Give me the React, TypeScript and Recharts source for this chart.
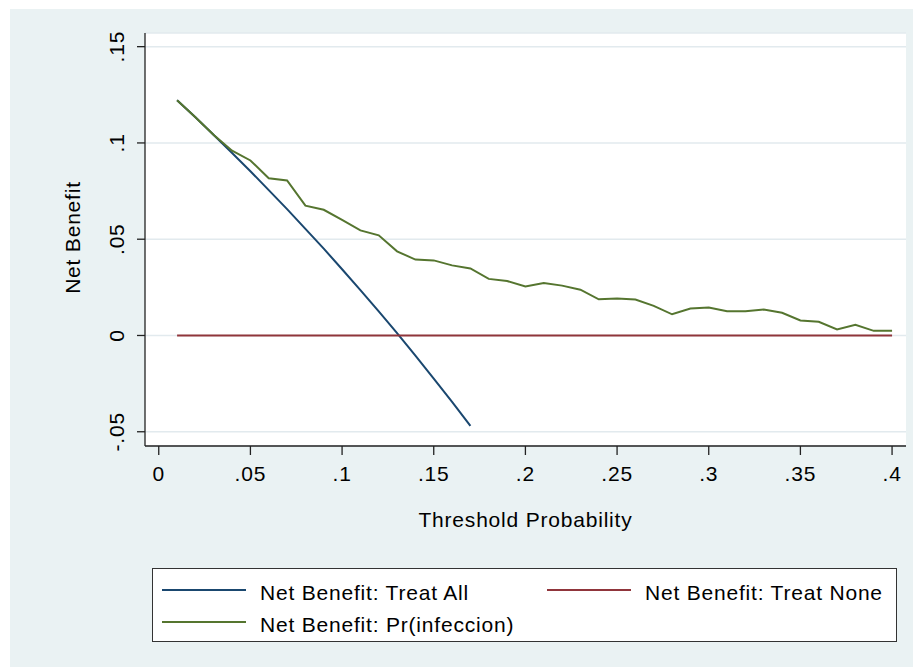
import { LineChart, Line, XAxis, YAxis, CartesianGrid, Label } from "recharts";

// threshold probabilities 0.01 .. 0.40
const thresholds = [
  0.01, 0.02, 0.03, 0.04, 0.05, 0.06, 0.07, 0.08, 0.09, 0.1,
  0.11, 0.12, 0.13, 0.14, 0.15, 0.16, 0.17, 0.18, 0.19, 0.2,
  0.21, 0.22, 0.23, 0.24, 0.25, 0.26, 0.27, 0.28, 0.29, 0.3,
  0.31, 0.32, 0.33, 0.34, 0.35, 0.36, 0.37, 0.38, 0.39, 0.4,
];

// treat all stops at 0.17
const treatAll = [
  0.1222, 0.1133, 0.1041, 0.0948, 0.0853, 0.0755, 0.0656, 0.0554, 0.0451, 0.0344,
  0.0236, 0.0125, 0.0012, -0.0105, -0.0224, -0.0345, -0.047,
];

const treatNone = [
  0, 0, 0, 0, 0, 0, 0, 0, 0, 0,
  0, 0, 0, 0, 0, 0, 0, 0, 0, 0,
  0, 0, 0, 0, 0, 0, 0, 0, 0, 0,
  0, 0, 0, 0, 0, 0, 0, 0, 0, 0,
];

const prInfeccion = [
  0.1222, 0.1133, 0.1041, 0.096, 0.0909, 0.0817, 0.0805, 0.0674, 0.0653, 0.06,
  0.0546, 0.052, 0.0437, 0.0394, 0.039, 0.0364, 0.0348, 0.0294, 0.0283, 0.0254,
  0.0273, 0.0259, 0.0238, 0.0188, 0.0192, 0.0187, 0.0154, 0.011, 0.014, 0.0145,
  0.0126, 0.0126, 0.0135, 0.0118, 0.0078, 0.0071, 0.0031, 0.0055, 0.0024, 0.0024,
];

const xTicks = [0, 0.05, 0.1, 0.15, 0.2, 0.25, 0.3, 0.35, 0.4];
const xTickLabels = ["0", ".05", ".1", ".15", ".2", ".25", ".3", ".35", ".4"];
const yTicks = [-0.05, 0, 0.05, 0.1, 0.15];
const yTickLabels = ["-.05", "0", ".05", ".1", ".15"];

const seriesNames = [
  "Net Benefit: Treat All",
  "Net Benefit: Treat None",
  "Net Benefit: Pr(infeccion)",
];

const NAVY = "#1a476f";
const MAROON = "#90353b";
const GREEN = "#55752f";
const BG = "#eaf2f3";
const FONT = '"Liberation Sans", Arial, sans-serif';

const data = thresholds.map((t, i) => ({
  t,
  all: treatAll[i],
  none: treatNone[i],
  model: prInfeccion[i],
}));

const textStyle = { fontFamily: FONT, fontSize: 21, letterSpacing: 0.8, fill: "#000" };

function XTick(props: any) {
  const { x, y, payload } = props;
  const i = xTicks.indexOf(payload.value);
  return (
    <text x={x} y={y} textAnchor="middle" dominantBaseline="central" style={textStyle}>
      {xTickLabels[i]}
    </text>
  );
}

function YTick(props: any) {
  const { x, y, payload } = props;
  const i = yTicks.indexOf(payload.value);
  return (
    <text
      x={x}
      y={y}
      textAnchor="middle"
      dominantBaseline="central"
      transform={`rotate(-90, ${x}, ${y})`}
      style={textStyle}
    >
      {yTickLabels[i]}
    </text>
  );
}

function XTitle(props: any) {
  const { x, y, width } = props.viewBox;
  return (
    <text x={x + width / 2} y={y + 73} textAnchor="middle" dominantBaseline="central" style={textStyle}>
      Threshold Probability
    </text>
  );
}

function YTitle(props: any) {
  const { y, height } = props.viewBox;
  const cx = 72;
  const cy = y + height / 2 - 2;
  return (
    <text
      x={cx}
      y={cy}
      textAnchor="middle"
      dominantBaseline="central"
      transform={`rotate(-90, ${cx}, ${cy})`}
      style={textStyle}
    >
      Net Benefit
    </text>
  );
}

function LegendItem({ color, name }: { color: string; name: string }) {
  return (
    <div style={{ display: "flex", alignItems: "center", height: 32 }}>
      <div style={{ width: 84, height: 2, background: color }} />
      <span
        style={{
          marginLeft: 14,
          position: "relative",
          top: 2.5,
          fontFamily: FONT,
          fontSize: 21,
          letterSpacing: 0.8,
          color: "#000",
          whiteSpace: "nowrap",
        }}
      >
        {name}
      </span>
    </div>
  );
}

export default function App() {
  return (
    <div style={{ position: "absolute", left: 0, top: 0, width: 913, height: 667, background: "#fff" }}>
      <div style={{ position: "absolute", left: 10, top: 9, width: 903, height: 658, background: BG }} />
      <div style={{ position: "absolute", left: 0, top: 0 }}>
        <LineChart width={913} height={667} data={data} margin={{ top: 33, right: 7, left: 0, bottom: 0 }}>
          <CartesianGrid vertical={false} stroke="#e2eaee" strokeWidth={1.5} fill="#fff" />
          <XAxis
            type="number"
            dataKey="t"
            domain={[-0.0075, 0.4076]}
            allowDataOverflow
            ticks={xTicks}
            interval={0}
            height={221}
            tickSize={9}
            tickMargin={18}
            tick={<XTick />}
            axisLine={{ stroke: "#222", strokeWidth: 1.3 }}
            tickLine={{ stroke: "#222", strokeWidth: 1.3 }}
          >
            <Label content={<XTitle />} />
          </XAxis>
          <YAxis
            type="number"
            domain={[-0.0574, 0.1571]}
            allowDataOverflow
            ticks={yTicks}
            interval={0}
            width={145}
            tickSize={8}
            tickMargin={20}
            tick={<YTick />}
            axisLine={{ stroke: "#222", strokeWidth: 1.3 }}
            tickLine={{ stroke: "#222", strokeWidth: 1.3 }}
          >
            <Label content={<YTitle />} />
          </YAxis>
          <Line dataKey="all" stroke={NAVY} strokeWidth={2} dot={false} isAnimationActive={false} />
          <Line dataKey="none" stroke={MAROON} strokeWidth={2} dot={false} isAnimationActive={false} />
          <Line dataKey="model" stroke={GREEN} strokeWidth={2} dot={false} isAnimationActive={false} />
        </LineChart>
      </div>
      <div
        style={{
          position: "absolute",
          left: 152,
          top: 568,
          width: 743,
          height: 72,
          background: "#fff",
          border: "1px solid #333",
          boxSizing: "content-box",
        }}
      >
        <div style={{ position: "absolute", left: 9, top: 5 }}>
          <LegendItem color={NAVY} name={seriesNames[0]} />
          <LegendItem color={GREEN} name={seriesNames[2]} />
        </div>
        <div style={{ position: "absolute", left: 394, top: 5 }}>
          <LegendItem color={MAROON} name={seriesNames[1]} />
        </div>
      </div>
    </div>
  );
}
